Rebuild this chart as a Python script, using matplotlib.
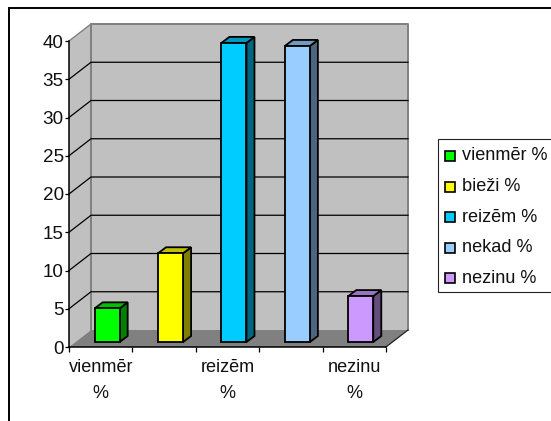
#!/usr/bin/env python3
"""Excel style pseudo 3D column chart, drawn with plain 2D matplotlib"""

import matplotlib.pyplot as plt
from matplotlib.patches import Polygon, Rectangle

plt.rcParams['font.family'] = ['Liberation Sans', 'DejaVu Sans']

categories = ['vienmēr %', 'bieži %', 'reizēm %', 'nekad %', 'nezinu %']
values = [4.4, 11.6, 39.1, 38.7, 6.0]
y_ticks = [0, 5, 10, 15, 20, 25, 30, 35, 40]

front_colors = ['#00FF00', '#FFFF00', '#00CCFF', '#99CCFF', '#CC99FF']
top_colors = ['#00C000', '#C0C000', '#0099C0', '#7399C0', '#9973C0']
side_colors = ['#008000', '#808000', '#006680', '#4D6680', '#664D80']

W, H = 551, 421
# front plane of the plot in pixels
LEFT, RIGHT, BOTTOM, TOP = 69, 386, 347, 41

fig = plt.figure(figsize=(W / 100, H / 100), dpi=100)

# overlay in pixel coordinates for the outer frame and the legend
bg = fig.add_axes([0, 0, 1, 1], zorder=0)
bg.set_xlim(0, W)
bg.set_ylim(H, 0)
bg.axis('off')
bg.plot([9, 9, W], [H, 8, 8], color='black', linewidth=1.4, solid_joinstyle='miter')

bg.add_patch(Rectangle((438, 139), 120, 153, facecolor='white', edgecolor='#222222', linewidth=0.8))
for i, (label, color) in enumerate(zip(categories, front_colors)):
    y = 156 + i * 30.6
    bg.add_patch(Rectangle((445, y - 5), 10, 10, facecolor=color, edgecolor='black', linewidth=1.2))
    bg.text(461.5, y, label, fontsize=13.1, color='#111111', va='center', ha='left')

ax = fig.add_axes([LEFT / W, 1 - BOTTOM / H, (RIGHT - LEFT) / W, (BOTTOM - TOP) / H], zorder=1)
ax.set_xlim(0, 5)
ax.set_ylim(0, 40)
ax.patch.set_visible(False)

px_x = 5 / (RIGHT - LEFT)
px_y = 40 / (BOTTOM - TOP)
dx, dy = 22 * px_x, 17 * px_y


def poly(points, face, edge='none', lw=0.0, z=1):
    ax.add_patch(Polygon(points, closed=True, facecolor=face, edgecolor=edge, linewidth=lw,
                         zorder=z, clip_on=False, joinstyle='miter'))


# walls and floor
poly([(0, 0), (dx, dy), (dx, 40 + dy), (0, 40)], '#C0C0C0')
poly([(dx, dy), (5 + dx, dy), (5 + dx, 40 + dy), (dx, 40 + dy)], '#C0C0C0')
poly([(0, 0), (5, 0), (5 + dx, dy), (dx, dy)], '#808080')

ax.plot([dx, dx, 5 + dx, 5 + dx], [dy, 40 + dy, 40 + dy, dy], color='#808080', linewidth=1.4, zorder=2, clip_on=False)
ax.plot([0, dx], [40, 40 + dy], color='#808080', linewidth=1.0, zorder=2, clip_on=False)
ax.plot([5, 5 + dx], [0, dy], color='#222222', linewidth=0.9, zorder=2, clip_on=False)

for t in y_ticks[1:-1]:
    ax.plot([0, dx, 5 + dx], [t, t + dy, t + dy], color='black', linewidth=0.9, zorder=2, clip_on=False)

# columns, pushed back a little from the front of the floor
bar_x = [i + 0.405 for i in range(len(values))]
bar_w = 25 * px_x
base = 5 * px_y
bx, by = 8 * px_x, 6 * px_y

ax.bar(bar_x, values, width=bar_w, bottom=base, align='edge', color=front_colors,
       edgecolor='black', linewidth=1.3, zorder=4, clip_on=False)
for x, v, top_c, side_c in zip(bar_x, values, top_colors, side_colors):
    y = base + v
    poly([(x + bar_w, base), (x + bar_w + bx, base + by), (x + bar_w + bx, y + by), (x + bar_w, y)],
         side_c, 'black', 1.3, 3)
    poly([(x, y), (x + bx, y + by), (x + bar_w + bx, y + by), (x + bar_w, y)],
         top_c, 'black', 1.3, 3)

for side in ['top', 'right']:
    ax.spines[side].set_visible(False)
for side in ['left', 'bottom']:
    ax.spines[side].set_linewidth(1.1)
    ax.spines[side].set_zorder(5)

ax.set_yticks(y_ticks)
ax.set_xticks(range(6))
ax.set_xticklabels([])
ax.tick_params(axis='y', length=3.0, width=0.9, labelsize=13.6, pad=0.8, labelcolor='#111111')
ax.tick_params(axis='x', length=3.5, width=0.9)

# Excel skips every other category label and wraps the rest
for i in [0, 2, 4]:
    word, pct = categories[i].split(' ')
    ax.text(i + 0.5, -21 * px_y, word, fontsize=13.1, color='#111111', ha='center', va='center', clip_on=False)
    ax.text(i + 0.5, -46 * px_y, pct, fontsize=13.1, color='#111111', ha='center', va='center', clip_on=False)

fig.savefig('out.png', dpi=100, facecolor='white')
plt.close(fig)
